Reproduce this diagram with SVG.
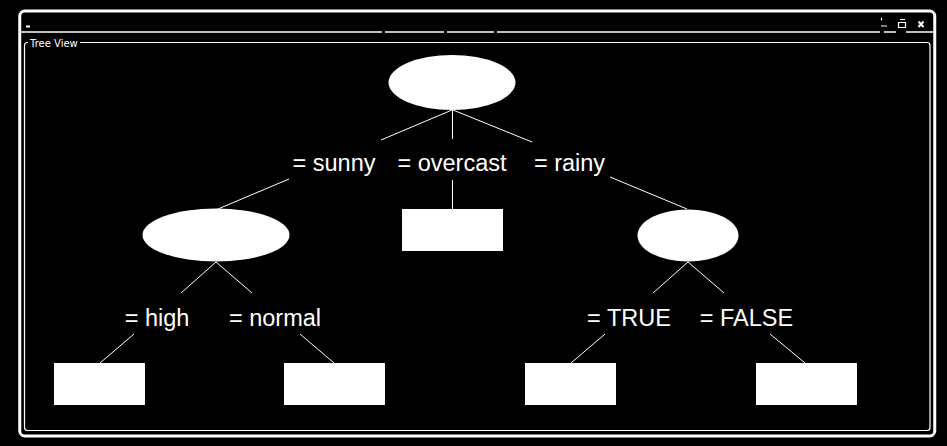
<svg xmlns="http://www.w3.org/2000/svg" width="947" height="446" viewBox="0 0 947 446">
<style>
.frame{fill:none;stroke:#fff}
.node{fill:#fff;stroke:none}
.edge{stroke:#fff;stroke-width:1;fill:none}
.lbl{fill:#fff;font-family:"Liberation Sans",Arial,sans-serif;font-size:23.5px;text-anchor:middle}
.title{fill:#fff;font-family:"DejaVu Sans","Liberation Sans",sans-serif;font-size:10px}
</style>
<rect x="0" y="0" width="947" height="446" fill="#000"/>
<g id="window">
<rect class="frame" x="19.75" y="11" width="915" height="425" rx="5" stroke-width="3"/>
<path class="frame" stroke-width="1.5" d="M21 32H382M385 32H444M447 32H494M497 32H880M884 32H896M906 32H933"/>
<rect x="26" y="25.5" width="4" height="2" fill="#fff"/>
<path class="frame" stroke-width="1.2" d="M881.5 18V20.5M881 26H887"/>
<path class="frame" stroke-width="1.2" d="M900 19.5H905M898.5 22.5H905.5V27.5H898.5Z"/>
<path class="frame" stroke-width="2" d="M918.5 21.5L923.5 27M923.5 21.5L918.5 27"/>
<rect class="frame" x="24.5" y="42.5" width="905.5" height="388" rx="3" stroke-width="1.2"/>
<rect x="28" y="38" width="52" height="10" fill="#000"/>
<text class="title" x="30" y="47">Tree View</text>
</g>
<g id="connectors">
<line class="edge" x1="452" y1="110" x2="381" y2="140"/>
<line class="edge" x1="452.5" y1="110" x2="452.5" y2="139"/>
<line class="edge" x1="453" y1="110" x2="532" y2="142"/>
<line class="edge" x1="289" y1="179" x2="218" y2="209"/>
<line class="edge" x1="452.5" y1="180" x2="452.5" y2="209"/>
<line class="edge" x1="610" y1="177" x2="687" y2="209"/>
<line class="edge" x1="216" y1="262" x2="181" y2="293"/>
<line class="edge" x1="216" y1="262" x2="252" y2="293"/>
<line class="edge" x1="688" y1="262" x2="653" y2="293"/>
<line class="edge" x1="688" y1="262" x2="724" y2="293"/>
<line class="edge" x1="134" y1="334" x2="100" y2="363"/>
<line class="edge" x1="300" y1="334" x2="334" y2="363"/>
<line class="edge" x1="605" y1="334" x2="571" y2="363"/>
<line class="edge" x1="770" y1="334" x2="805" y2="363"/>
</g>
<g id="root"><ellipse class="node" cx="452" cy="82.5" rx="63.5" ry="27.5"/></g>
<g id="lbl-sunny"><text class="lbl" x="334" y="171">= sunny</text></g>
<g id="lbl-overcast"><text class="lbl" x="452" y="171">= overcast</text></g>
<g id="lbl-rainy"><text class="lbl" x="569.5" y="171">= rainy</text></g>
<g id="humidity"><ellipse class="node" cx="216" cy="235" rx="73.5" ry="26.5"/></g>
<g id="leaf-overcast"><rect class="node" x="402" y="209" width="101" height="42"/></g>
<g id="windy"><ellipse class="node" cx="688" cy="235.5" rx="50.5" ry="26"/></g>
<g id="lbl-high"><text class="lbl" x="157" y="326">= high</text></g>
<g id="lbl-normal"><text class="lbl" x="275" y="326">= normal</text></g>
<g id="lbl-true"><text class="lbl" x="629" y="326">= TRUE</text></g>
<g id="lbl-false"><text class="lbl" x="746.5" y="326">= FALSE</text></g>
<g id="leaf-high"><rect class="node" x="54" y="363" width="91" height="42"/></g>
<g id="leaf-normal"><rect class="node" x="284" y="363" width="101" height="42"/></g>
<g id="leaf-true"><rect class="node" x="525" y="363" width="91" height="42"/></g>
<g id="leaf-false"><rect class="node" x="756" y="363" width="101" height="42"/></g>
</svg>
